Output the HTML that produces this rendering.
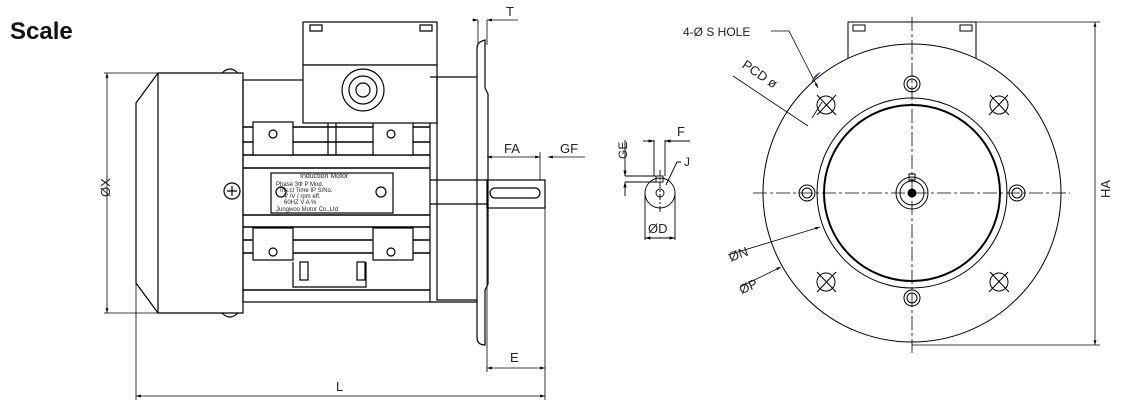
<!DOCTYPE html>
<html><head><meta charset="utf-8"><style>
html,body{margin:0;padding:0;background:#fff;width:1131px;height:412px;overflow:hidden}
svg{display:block}
text{font-family:"Liberation Sans",sans-serif;fill:#222}
</style></head><body>
<svg width="1131" height="412" viewBox="0 0 1131 412" xmlns="http://www.w3.org/2000/svg">
<defs>
<marker id="a" viewBox="0 0 10 10" refX="10" refY="5" markerWidth="6" markerHeight="6" orient="auto-start-reverse"><path d="M0,2L10,5L0,8z" fill="#000"/></marker>
</defs>
<text x="10" y="39" font-size="24" font-weight="bold" style="fill:#111">Scale</text>

<g stroke="#000" fill="none" stroke-width="1.2">
<!-- fan cover -->
<path d="M136,103 L158,73 L243,73 L243,313 L158,313 L136,283 Z"/>
<line x1="158" y1="73" x2="158" y2="313"/>
<path d="M222,73 q8,-8 16,0 M222,313 q8,8 16,0"/>
<!-- body -->
<rect x="243" y="80" width="187" height="222"/>
<g stroke-width="1.5">
<line x1="243" y1="127" x2="430" y2="127"/><line x1="243" y1="142" x2="430" y2="142"/>
<line x1="243" y1="155" x2="430" y2="155"/><line x1="243" y1="168" x2="430" y2="168"/>
<line x1="243" y1="215" x2="430" y2="215"/><line x1="243" y1="227" x2="430" y2="227"/>
<line x1="243" y1="240" x2="430" y2="240"/><line x1="243" y1="253" x2="430" y2="253"/>
<line x1="243" y1="290" x2="430" y2="290"/>
</g>
<rect x="253" y="122" width="40" height="33" fill="#fff"/><circle cx="273" cy="134" r="4"/>
<rect x="373" y="122" width="40" height="33" fill="#fff"/><circle cx="391" cy="134" r="4"/>
<rect x="253" y="228" width="40" height="32" fill="#fff"/><circle cx="273" cy="252" r="4"/>
<rect x="373" y="228" width="40" height="32" fill="#fff"/><circle cx="391" cy="252" r="4"/>
<path d="M293,262 v25 h73 v-25"/>
<rect x="300" y="262" width="8" height="18"/><rect x="357" y="262" width="8" height="18"/>
<line x1="328" y1="110" x2="328" y2="155"/><line x1="336" y1="110" x2="336" y2="155"/>
<!-- nameplate -->
<rect x="271" y="173" width="122" height="40" fill="#fff"/>
<circle cx="232" cy="191" r="8"/><path d="M227,191h10M232,186v10"/>
<circle cx="281" cy="192" r="5"/><circle cx="381" cy="192" r="5"/>
<!-- terminal box -->
<rect x="303" y="22" width="134" height="43" fill="#fff"/>
<rect x="303" y="65" width="134" height="58" fill="#fff"/>
<circle cx="363" cy="90" r="21"/><circle cx="363" cy="90" r="14"/><circle cx="363" cy="90" r="7"/>
<path d="M310,25h12v6h-12z M420,25h12v6h-12z"/>
<!-- flange region -->
<path d="M430,77 h48 M437,77 v223 h40 M430,302 h47"/>
<path d="M477,48 q0,-6 8,-8 V88 l3,6 v190 l-3,6 v55 q-8,0 -8,-8 Z" fill="#fff"/>
<!-- shaft -->
<rect x="487" y="180" width="58" height="28"/>
<rect x="490" y="188" width="50" height="10" rx="5"/>
<line x1="430" y1="180" x2="487" y2="180"/><line x1="430" y1="204" x2="487" y2="204"/>
</g>
<g font-size="6" font-family="Liberation Mono"><text x="300" y="178" font-size="7">Induction  Motor</text><text x="276" y="186">Phase   3Φ  P Mod.</text><text x="280" y="192">Ins.cl Time  IP S/No.</text><text x="284" y="198">V  /V   / rpm eff.</text><text x="284" y="204">60HZ V   A  %</text><text x="276" y="211">Jungwoo Motor Co.,Ltd</text></g>

<!-- left dims -->
<g stroke="#000" stroke-width="0.8" fill="none">
<line x1="107" y1="73" x2="107" y2="313" marker-start="url(#a)" marker-end="url(#a)"/>
<line x1="104" y1="73" x2="158" y2="73"/><line x1="104" y1="313" x2="158" y2="313"/>
<line x1="136" y1="283" x2="136" y2="400"/>
<line x1="545" y1="208" x2="545" y2="400"/>
<line x1="487" y1="208" x2="487" y2="372"/>
<line x1="136" y1="396" x2="545" y2="396" marker-start="url(#a)" marker-end="url(#a)"/>
<line x1="487" y1="368" x2="545" y2="368" marker-start="url(#a)" marker-end="url(#a)"/>
<line x1="487" y1="157" x2="540" y2="157" marker-start="url(#a)" marker-end="url(#a)"/>
<line x1="540" y1="152" x2="540" y2="180"/>
<line x1="548" y1="157" x2="585" y2="157" marker-start="url(#a)"/>
<line x1="478" y1="20" x2="478" y2="45"/><line x1="487" y1="20" x2="487" y2="45"/>
<line x1="472" y1="20" x2="478" y2="20" marker-end="url(#a)"/><line x1="487" y1="20" x2="518" y2="20" marker-start="url(#a)"/>
</g>
<text x="94" y="205" font-size="13" transform="rotate(-90 98 193)">ØX</text>
<text x="336" y="391" font-size="13">L</text>
<text x="510" y="362" font-size="13">E</text>
<text x="504" y="153" font-size="13">FA</text>
<text x="560" y="153" font-size="13">GF</text>
<text x="506" y="16" font-size="13">T</text>

<!-- shaft end view -->
<g stroke="#000" fill="none" stroke-width="0.9">
<circle cx="660" cy="193" r="15"/><circle cx="660" cy="193" r="4"/>
<rect x="656" y="176" width="7" height="6"/>
<line x1="645" y1="193" x2="645" y2="240"/><line x1="675" y1="193" x2="675" y2="240"/>
<line x1="645" y1="238" x2="675" y2="238" marker-start="url(#a)" marker-end="url(#a)"/>
<line x1="654" y1="140" x2="654" y2="176"/><line x1="665" y1="140" x2="665" y2="176"/>
<line x1="643" y1="141" x2="654" y2="141" marker-end="url(#a)"/><line x1="665" y1="141" x2="690" y2="141" marker-start="url(#a)"/>
<line x1="625" y1="176" x2="656" y2="176"/><line x1="625" y1="182" x2="656" y2="182"/>
<line x1="625" y1="140" x2="625" y2="176" marker-end="url(#a)"/><line x1="625" y1="196" x2="625" y2="182" marker-end="url(#a)"/>
<path d="M666,185 L677,162 h4"/>
<line x1="660" y1="170" x2="660" y2="212" stroke-dasharray="6,2,2,2"/>
</g>
<text x="677" y="136" font-size="13">F</text>
<text x="684" y="166" font-size="12">J</text>
<text x="616" y="162" font-size="12" transform="rotate(-90 620 155)">GE</text>
<text x="648" y="233" font-size="13">ØD</text>

<!-- front view -->
<g stroke="#000" fill="none" stroke-width="1">
<rect x="848" y="22" width="128" height="40" fill="#fff"/>
<path d="M853,25h12v6h-12z M960,25h12v6h-12z"/>
<circle cx="912" cy="193" r="149" fill="#fff"/>
<circle cx="912" cy="193" r="95"/>
<circle cx="912" cy="193" r="88" stroke-width="2"/>
<circle cx="912" cy="193" r="16"/><circle cx="912" cy="193" r="12"/><circle cx="912" cy="193" r="4" fill="#000"/>
<rect x="909" y="174" width="6" height="6"/>
<g>
<circle cx="912" cy="84" r="8"/><circle cx="912" cy="84" r="5"/>
<circle cx="807" cy="193" r="8"/><circle cx="807" cy="193" r="5"/>
<circle cx="1017" cy="193" r="8"/><circle cx="1017" cy="193" r="5"/>
<circle cx="912" cy="298" r="8"/><circle cx="912" cy="298" r="5"/>
</g>
<g>
<circle cx="826" cy="105" r="9"/><path d="M817,95l19,20M836,95l-19,20"/>
<circle cx="999" cy="105" r="9"/><path d="M990,95l19,20M1008,95l-19,20"/>
<circle cx="826" cy="282" r="9"/><path d="M817,272l19,20M836,272l-19,20"/>
<circle cx="999" cy="282" r="9"/><path d="M990,272l19,20M1008,272l-19,20"/>
</g>
<g stroke-width="0.8" stroke-dasharray="14,3,3,3">
<line x1="753" y1="193" x2="1070" y2="193"/><line x1="912" y1="17" x2="912" y2="355"/>
</g>
<g stroke-width="0.8">
<line x1="976" y1="22" x2="1100" y2="22"/><line x1="912" y1="345" x2="1100" y2="345"/>
<line x1="1095" y1="22" x2="1095" y2="345" marker-start="url(#a)" marker-end="url(#a)"/>
<path d="M771,31 h18 L818,88" marker-end="url(#a)"/>
<line x1="733" y1="76" x2="808" y2="126"/>
<line x1="812" y1="118" x2="822" y2="102"/>
<line x1="728" y1="255" x2="820" y2="227" marker-end="url(#a)"/>
<line x1="740" y1="287" x2="781" y2="267" marker-end="url(#a)"/>
</g>
</g>
<path d="M811,83 q3,-9 10,-11 z" fill="#2a3f8a"/>
<text x="683" y="36" font-size="12">4-Ø S HOLE</text>
<text x="736" y="80" font-size="13" transform="rotate(34 760 82)">PCD ø</text>
<text x="728" y="258" font-size="13" transform="rotate(-20 740 252)">ØN</text>
<text x="738" y="290" font-size="13" transform="rotate(-24 750 284)">ØP</text>
<text x="1092" y="200" font-size="13" transform="rotate(-90 1100 190)">HA</text>
</svg>
</body></html>
